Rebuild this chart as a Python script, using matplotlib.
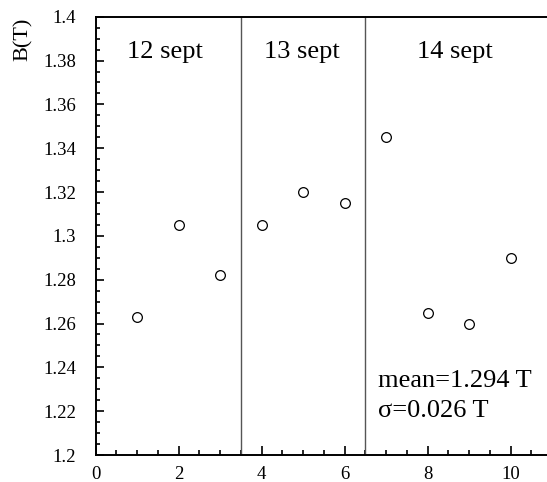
import matplotlib
matplotlib.use("Agg")
import matplotlib.pyplot as plt
from matplotlib.ticker import MultipleLocator
import numpy as np

run = [1, 2, 3, 4, 5, 6, 7, 8, 9, 10]
field = [1.263, 1.305, 1.2823, 1.305, 1.320, 1.315, 1.345, 1.265, 1.260, 1.290]
day_borders = [3.5, 6.5]
day_labels = ["12 sept", "13 sept", "14 sept"]
day_label_x = [1.68, 4.97, 8.66]
stats_lines = ["mean=1.294 T", "\u03c3=0.026 T"]

plt.rcParams['font.family'] = ['Liberation Serif', 'DejaVu Serif']

fig = plt.figure(figsize=(5.47, 4.82), dpi=100)
ax = fig.add_axes([0.1746, 0.056, 0.8346, 0.9093])

ax.plot(run, field, 'o', mfc='white', mec='black', ms=7, mew=0.9, zorder=3)
for xb in day_borders:
    ax.axvline(xb, color='#555555', lw=1.0)

for lab, xl in zip(day_labels, day_label_x):
    ax.text(xl, 1.3839, lab, ha='center', va='center', fontsize=19)

ax.text(6.81, 1.2337, stats_lines[0], ha='left', va='center', fontsize=19)
ax.text(6.81, 1.2200, stats_lines[1], ha='left', va='center', fontsize=19)

ax.set_xlim(0, 11)
ax.set_ylim(1.2, 1.4)
ax.xaxis.set_major_locator(MultipleLocator(2))
ax.xaxis.set_minor_locator(MultipleLocator(0.5))
ax.yaxis.set_major_locator(MultipleLocator(0.02))
ax.yaxis.set_minor_locator(MultipleLocator(0.005))
ax.yaxis.set_major_formatter(plt.FuncFormatter(lambda v, p: ('%.2f' % v).rstrip('0').rstrip('.') if abs(v - round(v, 1)) > 1e-9 else ('%.1f' % v)))

ax.tick_params(which='both', direction='in', top=False, right=False, width=1.2, labelsize=13.5)
ax.tick_params(axis='y', which='major', length=6, pad=14)
ax.tick_params(axis='y', which='minor', length=3)
ax.tick_params(axis='x', which='major', length=6.5, pad=8)
ax.tick_params(axis='x', which='minor', length=3.5)

for s in ax.spines.values():
    s.set_linewidth(1.4)
ax.spines['right'].set_visible(False)

ax.set_ylabel('B(T)', fontsize=16)
ax.yaxis.set_label_coords(-0.138, 0.948)

fig.savefig('out.png', dpi=100)
